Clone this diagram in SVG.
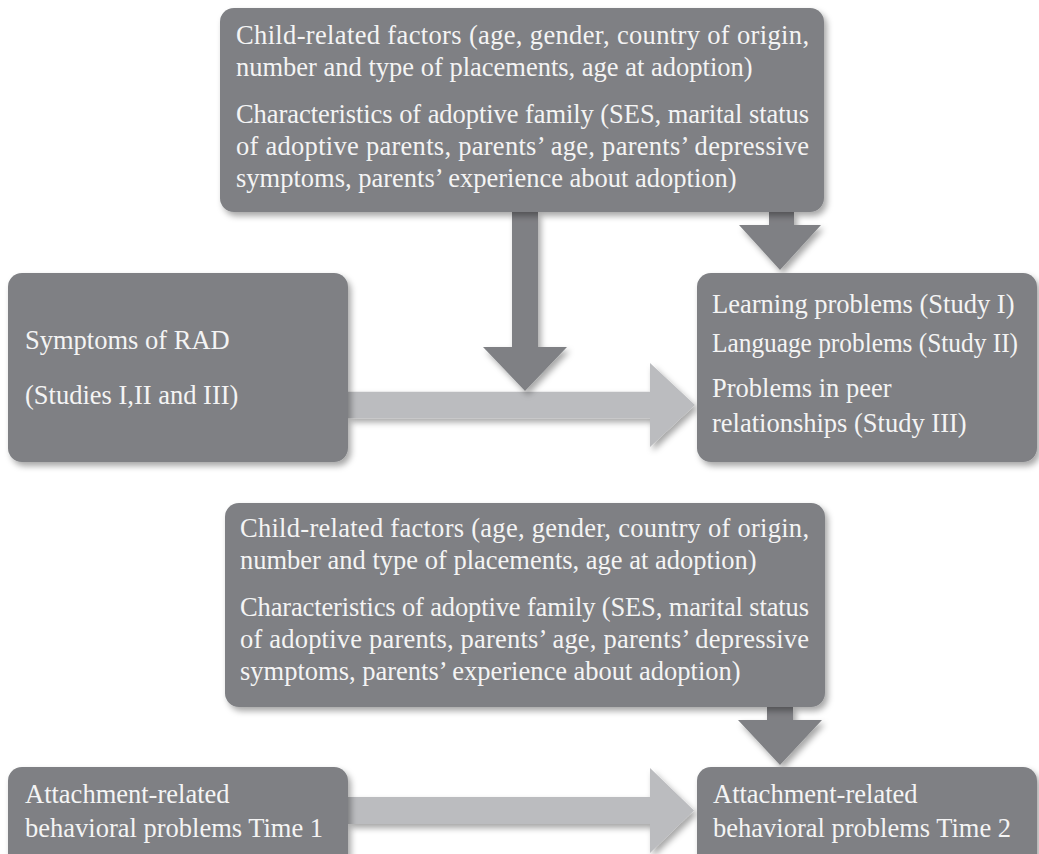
<svg xmlns="http://www.w3.org/2000/svg" width="1039" height="854" viewBox="0 0 1039 854">
<defs>
<filter id="sh" x="-10%" y="-10%" width="125%" height="130%">
<feDropShadow dx="3" dy="4" stdDeviation="3" flood-color="#000" flood-opacity="0.35"/>
</filter>
<style>
.box{fill:#7f8084;filter:url(#sh)}
.dark{fill:#7f8084;filter:url(#sh)}
.light{fill:#bbbcbf;filter:url(#sh)}
text{font-family:"Liberation Serif","Times New Roman",serif;font-size:26.5px;fill:#f4f4f4}
</style>
</defs>
<rect width="1039" height="854" fill="#ffffff"/>
<g id="connectors">
<polygon class="light" points="348,391.7 650,391.7 650,363 695,405 650,447 650,418.3 348,418.3"/>
<polygon class="dark" points="512,212 538,212 538,347 567,347 525,391 483,347 512,347"/>
<polygon class="dark" points="769,212 794,212 794,225 821,225 780,270 739,225 769,225"/>
<polygon class="light" points="348,797 650,797 650,768 694,810.5 650,853 650,824 348,824"/>
<polygon class="dark" points="767,706 793,706 793,720 822,720 780,765 738,720 767,720"/>
</g>
<g id="node-factors-top">
<rect class="box" x="220" y="8" width="604" height="204" rx="14"/>
<text x="236" y="44" textLength="573" lengthAdjust="spacing">Child-related factors (age, gender, country of origin,</text>
<text x="236" y="76">number and type of placements, age at adoption)</text>
<text x="236" y="123" textLength="573" lengthAdjust="spacing">Characteristics of adoptive family (SES, marital status</text>
<text x="236" y="155" textLength="573" lengthAdjust="spacing">of adoptive parents, parents’ age, parents’ depressive</text>
<text x="236" y="187">symptoms, parents’ experience about adoption)</text>
</g>
<g id="node-rad">
<rect class="box" x="8" y="273" width="340" height="189" rx="14"/>
<text x="25" y="349">Symptoms of RAD</text>
<text x="25" y="404">(Studies I,II and III)</text>
</g>
<g id="node-outcomes">
<rect class="box" x="697" y="273" width="340" height="189" rx="14"/>
<text x="712" y="313">Learning problems (Study I)</text>
<text x="712" y="352" textLength="306" lengthAdjust="spacingAndGlyphs">Language problems (Study II)</text>
<text x="712" y="397">Problems in peer</text>
<text x="712" y="432">relationships (Study III)</text>
</g>
<g id="node-factors-bottom">
<rect class="box" x="225" y="503" width="600" height="204" rx="14"/>
<text x="240" y="537" textLength="569" lengthAdjust="spacing">Child-related factors (age, gender, country of origin,</text>
<text x="240" y="569">number and type of placements, age at adoption)</text>
<text x="240" y="616" textLength="569" lengthAdjust="spacing">Characteristics of adoptive family (SES, marital status</text>
<text x="240" y="648" textLength="569" lengthAdjust="spacing">of adoptive parents, parents’ age, parents’ depressive</text>
<text x="240" y="680">symptoms, parents’ experience about adoption)</text>
</g>
<g id="node-time1">
<rect class="box" x="8" y="767" width="340" height="110" rx="14"/>
<text x="25" y="803">Attachment-related</text>
<text x="25" y="837">behavioral problems Time 1</text>
</g>
<g id="node-time2">
<rect class="box" x="697" y="767" width="340" height="110" rx="14"/>
<text x="713" y="803">Attachment-related</text>
<text x="713" y="837">behavioral problems Time 2</text>
</g>
</svg>
